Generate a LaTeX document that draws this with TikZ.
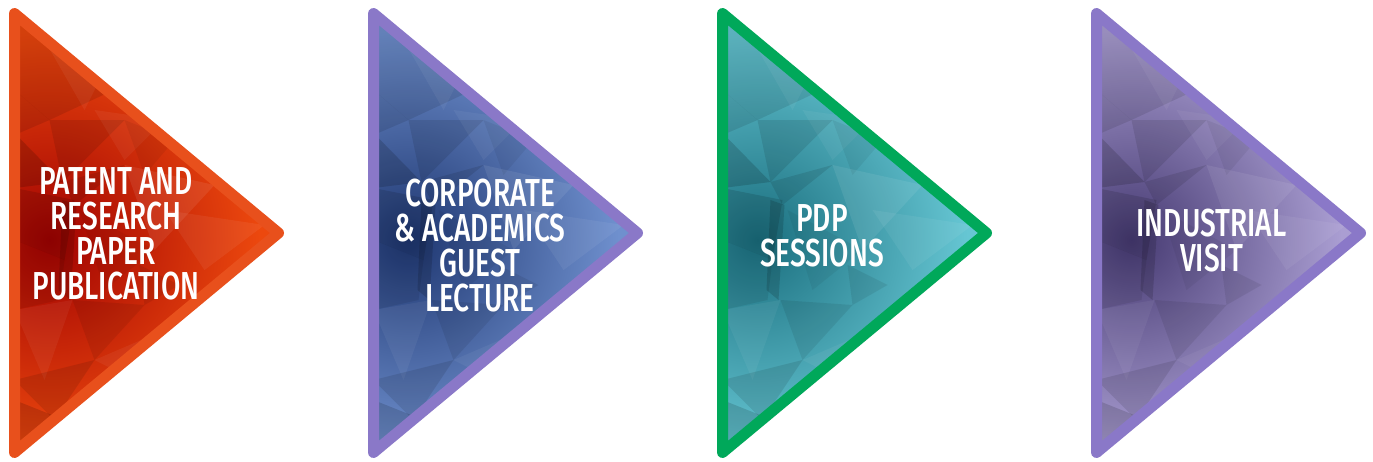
\documentclass[tikz,border=0pt]{standalone}
\usepackage{fontspec}
\newfontfamily\labelfont[FakeStretch=0.72]{Fira Sans Medium}
\definecolor{bOrange}{HTML}{E8501C}
\definecolor{bPurple}{HTML}{8A78C8}
\definecolor{bGreen}{HTML}{00A85A}
\definecolor{iRed}{HTML}{A00202}
\definecolor{oRed}{HTML}{EC480E}
\definecolor{iBlue}{HTML}{1E3670}
\definecolor{oBlue}{HTML}{6F90CE}
\definecolor{iTeal}{HTML}{1A6E7E}
\definecolor{oTeal}{HTML}{66C6D3}
\definecolor{iPurp}{HTML}{463A72}
\definecolor{oPurp}{HTML}{AA9ED2}
\tikzset{
  tribody/.style={line width=11pt, line join=round},
  lbl/.style={text=white, align=center, inner sep=0pt,
    font={\labelfont\fontsize{39pt}{35pt}\selectfont}},
  dk/.style={fill=black, fill opacity=#1},
  lt/.style={fill=white, fill opacity=#1},
}
\newcommand\trishape{(0,13.5) -- (264,233) -- (0,452.5) -- cycle}
\newcommand\myfacets{%
  \fill[dk=.10] (0,0)--(110,85)--(35,120)--(0,90)--cycle;
  \fill[lt=.05] (30,40)--(95,60)--(70,110)--cycle;
  \fill[dk=.10] (0,90)--(35,120)--(0,135)--cycle;
  \fill[dk=.15] (0,133)--(48,182)--(0,188)--cycle;
  \fill[dk=.10] (35,120)--(110,120)--(48,182)--cycle;
  \fill[lt=.05] (80,110)--(150,120)--(110,160)--cycle;
  \fill[dk=.06] (110,120)--(160,140)--(130,175)--cycle;
  \fill[dk=.12] (0,188)--(60,200)--(50,260)--(0,240)--cycle;
  \fill[dk=.10] (48,182)--(110,165)--(60,205)--cycle;
  \fill[dk=.14] (48,200)--(62,205)--(56,300)--(44,290)--cycle;
  \fill[dk=.08] (0,240)--(50,260)--(45,300)--(0,310)--cycle;
  \fill[lt=.08] (110,165)--(200,185)--(140,250)--cycle;
  \fill[lt=.06] (150,210)--(250,225)--(190,270)--cycle;
  \fill[dk=.05] (65,210)--(140,250)--(90,290)--cycle;
  \fill[dk=.08] (125,265)--(165,285)--(130,305)--cycle;
  \fill[dk=.08] (58,300)--(130,305)--(80,360)--cycle;
  \fill[lt=.05] (0,310)--(58,300)--(30,380)--cycle;
  \fill[dk=.10] (0,380)--(80,360)--(40,420)--cycle;
  \fill[dk=.14] (0,400)--(50,420)--(0,452)--cycle;
  \fill[lt=.05] (80,360)--(150,330)--(120,380)--cycle;
}
% #1 left x, #2 inner colour, #3 outer colour, #4 border colour
\newcommand\tri[4]{%
  \begin{scope}[shift={(#1,0)}]
    \begin{scope}
      \clip \trishape;
      \fill[#3] \trishape;
      \shade[inner color=#2, outer color=#3] (35,240) circle (210);
      \myfacets
    \end{scope}
    \draw[tribody, draw=#4] \trishape;
  \end{scope}}
\begin{document}
\begin{tikzpicture}[x=1pt, y=-1pt]
  \useasboundingbox (0,0) rectangle (1373,461);
  \fill[white] (0,0) rectangle (1373,461);
  \tri{14.5}{iRed}{oRed}{bOrange}
  \tri{373.5}{iBlue}{oBlue}{bPurple}
  \tri{722.5}{iTeal}{oTeal}{bGreen}
  \tri{1096.5}{iPurp}{oPurp}{bPurple}
  \node[lbl] (t1) at (116,234) {PATENT AND\\RESEARCH\\PAPER\\PUBLICATION};
  \node[lbl] (t2) at (480,246) {CORPORATE\\\& ACADEMICS\\GUEST\\LECTURE};
  \node[lbl] (t3) at (822,236) {PDP\\SESSIONS};
  \node[lbl] (t4) at (1211.5,241) {INDUSTRIAL\\VISIT};
\end{tikzpicture}
\end{document}
